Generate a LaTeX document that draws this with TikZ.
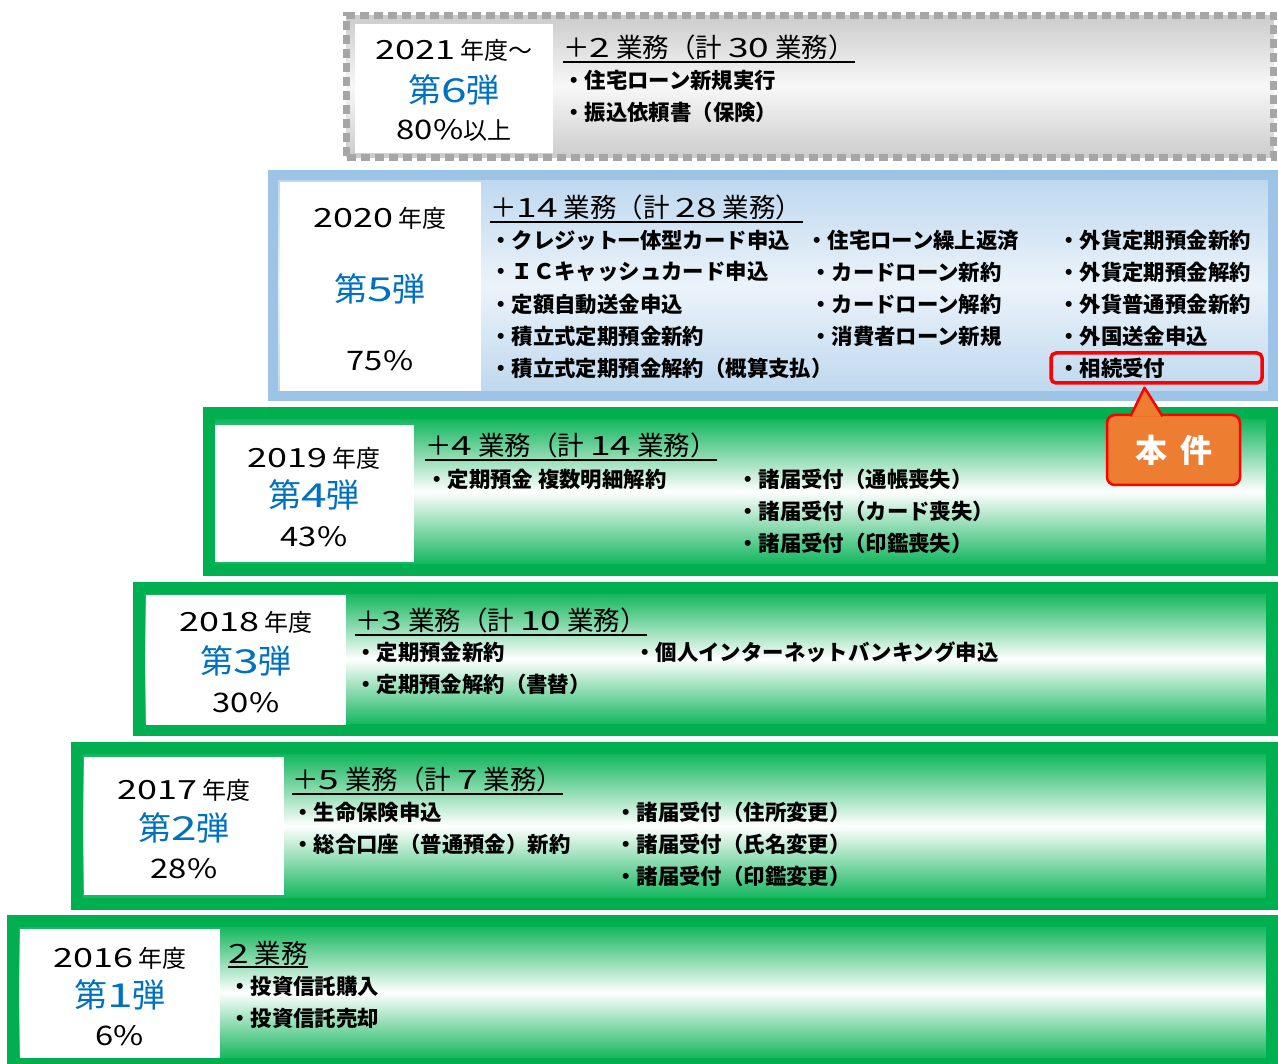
\documentclass[tikz,border=0pt]{standalone}
\usepackage{fontspec}
\setmainfont{Noto Sans CJK JP}
\newfontfamily\widedigits{Noto Sans CJK JP}[FakeStretch=1.4]
\newfontfamily\yeardigits{Noto Sans CJK JP}[Scale=1.1, FakeStretch=1.36]
\newfontfamily\pctdigits{Noto Sans CJK JP}[Scale=1.12, FakeStretch=1.22]
\newcommand\dg[1]{{\widedigits #1}}
\newcommand\yr[1]{{\yeardigits #1}}
\newcommand\pc[1]{{\pctdigits #1}}
\usetikzlibrary{shapes.callouts}

\definecolor{stagegreen}{HTML}{00B050}
\definecolor{stageblue}{HTML}{9DC3E6}
\definecolor{fillblue}{HTML}{BDD7EE}
\definecolor{danblue}{HTML}{0070C0}
\definecolor{dashgray}{HTML}{A6A6A6}
\definecolor{honorange}{HTML}{ED7D31}

\tikzset{
  greenstage/.style={draw=stagegreen, line width=12pt, top color=stagegreen,
    bottom color=stagegreen, middle color=white, inner sep=0pt, outer sep=0pt},
  bluestage/.style={draw=stageblue, line width=10pt, top color=fillblue,
    bottom color=fillblue, middle color=fillblue!30, inner sep=0pt, outer sep=0pt},
  graystage/.style={draw=dashgray, line width=7pt, dash pattern=on 9pt off 5pt,
    top color=gray!40, bottom color=gray!40, middle color=gray!6, inner sep=0pt, outer sep=0pt},
  labelbox/.style={fill=white, inner sep=0pt, outer sep=0pt},
  yeartext/.style={inner sep=0pt, font=\fontsize{24}{28}\selectfont},
  dantext/.style={inner sep=0pt, text=danblue, font=\fontsize{33}{36}\selectfont},
  pcttext/.style={inner sep=0pt, font=\fontsize{24}{28}\selectfont},
  headtext/.style={anchor=west, inner sep=0pt, font=\fontsize{26.5}{30}\selectfont},
  underline/.style={line width=2pt},
  itemtext/.style={anchor=west, inner sep=0pt, font=\bfseries\fontsize{21.4}{24}\selectfont},
  markbox/.style={draw=red, line width=3.5pt, rounded corners=5pt, inner sep=0pt},
  honken/.style={fill=honorange, draw=red, line width=2.5pt, rounded corners=8pt,
    inner sep=0pt, text=white, font=\bfseries\fontsize{32}{34}\selectfont},
  honpointer/.style={fill=honorange, draw=red, line width=2.5pt, line join=round}
}

\begin{document}
\begin{tikzpicture}[x=1pt,y=-1pt]
\useasboundingbox (0,0) rectangle (1278,1064);

%%%%%%%%%%%%%%%%%2021%%%%%%%%%%%%%%
\node[graystage, minimum width=927pt, minimum height=142pt] (s6) at (810,86.5){};

\node[labelbox, minimum width=198pt, minimum height=129pt] (l6) at (454,88.5){};
\node[yeartext] (y6) at (454,50){\yr{2021} 年度～};
\node[dantext] (d6) at (454,90){第\dg{6}弾};
\node[pcttext] (p6) at (454,130){\pc{80\%}以上};

\node[headtext] (h6) at (563,47){＋\dg{2} 業務（計 \dg{30} 業務）};
\draw[underline] ([yshift=-2pt]h6.south west) -- ([yshift=-2pt]h6.south east);

\node[itemtext] (i6a) at (563,80){・住宅ローン新規実行};
\node[itemtext] (i6b) at (563,112){・振込依頼書（保険）};


%%%%%%%%%%%%%%%%%2020%%%%%%%%%%%%%%
\node[bluestage, minimum width=1000pt, minimum height=221pt] (s5) at (773,285.5){};

\node[labelbox, minimum width=201pt, minimum height=209pt] (l5) at (380.5,286.5){};
\node[yeartext] (y5) at (380,218){\yr{2020} 年度};
\node[dantext] (d5) at (380,289){第\dg{5}弾};
\node[pcttext] (p5) at (380,361){\pc{75\%}};

\node[headtext] (h5) at (490,207){＋\dg{14} 業務（計 \dg{28} 業務）};
\draw[underline] ([yshift=-2pt]h5.south west) -- ([yshift=-2pt]h5.south east);

%Left column
\node[itemtext] (i5a) at (490,240){・クレジット一体型カード申込};
\node[itemtext] (i5b) at (490,272){・ＩＣキャッシュカード申込};
\node[itemtext] (i5c) at (490,304){・定額自動送金申込};
\node[itemtext] (i5d) at (490,336){・積立式定期預金新約};
\node[itemtext] (i5e) at (490,368){・積立式定期預金解約（概算支払）};

%Middle column
\node[itemtext] (i5f) at (806,240){・住宅ローン繰上返済};
\node[itemtext] (i5g) at (810,272){・カードローン新約};
\node[itemtext] (i5h) at (810,304){・カードローン解約};
\node[itemtext] (i5i) at (810,336){・消費者ローン新規};

%Right column
\node[itemtext] (i5j) at (1058,240){・外貨定期預金新約};
\node[itemtext] (i5k) at (1058,272){・外貨定期預金解約};
\node[itemtext] (i5l) at (1058,304){・外貨普通預金新約};
\node[itemtext] (i5m) at (1058,336){・外国送金申込};
\node[itemtext] (i5n) at (1058,368){・相続受付};

\node[markbox, minimum width=211pt, minimum height=30pt] (souzoku) at (1156.5,368){};


%%%%%%%%%%%%%%%%%2019%%%%%%%%%%%%%%
\node[greenstage, minimum width=1063pt, minimum height=157pt] (s4) at (740.5,491.5){};

\node[labelbox, minimum width=199pt, minimum height=137pt] (l4) at (314.5,493.5){};
\node[yeartext] (y4) at (314,458){\yr{2019} 年度};
\node[dantext] (d4) at (314,495){第\dg{4}弾};
\node[pcttext] (p4) at (314,537){\pc{43\%}};

\node[headtext] (h4) at (425,445){＋\dg{4} 業務（計 \dg{14} 業務）};
\draw[underline] ([yshift=-2pt]h4.south west) -- ([yshift=-2pt]h4.south east);

\node[itemtext] (i4a) at (426,479){・定期預金 複数明細解約};
\node[itemtext] (i4b) at (737,479){・諸届受付（通帳喪失）};
\node[itemtext] (i4c) at (737,511){・諸届受付（カード喪失）};
\node[itemtext] (i4d) at (737,543){・諸届受付（印鑑喪失）};


%%%%%%%%%%%%%%%%%2018%%%%%%%%%%%%%%
\node[greenstage, minimum width=1133pt, minimum height=142pt] (s3) at (705.5,659){};

\node[labelbox, minimum width=200pt, minimum height=130pt] (l3) at (246,660){};
\node[yeartext] (y3) at (246,622){\yr{2018} 年度};
\node[dantext] (d3) at (246,661){第\dg{3}弾};
\node[pcttext] (p3) at (246,703){\pc{30\%}};

\node[headtext] (h3) at (355,620){＋\dg{3} 業務（計 \dg{10} 業務）};
\draw[underline] ([yshift=-2pt]h3.south west) -- ([yshift=-2pt]h3.south east);

\node[itemtext] (i3a) at (355,652){・定期預金新約};
\node[itemtext] (i3b) at (355,684){・定期預金解約（書替）};
\node[itemtext] (i3c) at (634,652){・個人インターネットバンキング申込};


%%%%%%%%%%%%%%%%%2017%%%%%%%%%%%%%%
\node[greenstage, minimum width=1195pt, minimum height=156pt] (s2) at (674.5,826){};

\node[labelbox, minimum width=200pt, minimum height=138pt] (l2) at (184,826){};
\node[yeartext] (y2) at (184,790){\yr{2017} 年度};
\node[dantext] (d2) at (184,828){第\dg{2}弾};
\node[pcttext] (p2) at (184,869){\pc{28\%}};

\node[headtext] (h2) at (292,779){＋\dg{5} 業務（計 \dg{7} 業務）};
\draw[underline] ([yshift=-2pt]h2.south west) -- ([yshift=-2pt]h2.south east);

\node[itemtext] (i2a) at (292,812){・生命保険申込};
\node[itemtext] (i2b) at (292,844){・総合口座（普通預金）新約};
\node[itemtext] (i2c) at (615,812){・諸届受付（住所変更）};
\node[itemtext] (i2d) at (615,844){・諸届受付（氏名変更）};
\node[itemtext] (i2e) at (615,876){・諸届受付（印鑑変更）};


%%%%%%%%%%%%%%%%%2016%%%%%%%%%%%%%%
\node[greenstage, minimum width=1259pt, minimum height=143pt] (s1) at (642.5,992.5){};

\node[labelbox, minimum width=200pt, minimum height=129pt] (l1) at (120,993.5){};
\node[yeartext] (y1) at (120,958){\yr{2016} 年度};
\node[dantext] (d1) at (120,995){第\dg{1}弾};
\node[pcttext] (p1) at (120,1036){\pc{6\%}};

\node[headtext] (h1) at (228,953){\dg{2} 業務};
\draw[underline] ([yshift=-2pt]h1.south west) -- ([yshift=-2pt]h1.south east);

\node[itemtext] (i1a) at (229,986){・投資信託購入};
\node[itemtext] (i1b) at (229,1018){・投資信託売却};


%%%%%%%%%%%%%%%%%Callout%%%%%%%%%%%%%%
\node[honken, minimum width=133pt, minimum height=70pt] (hon) at (1173.5,450){本\hspace{13pt}件};

\coordinate (ptip) at ([xshift=-12pt,yshift=-3pt]souzoku.south);
\coordinate (pleft) at ([xshift=-43pt,yshift=-2.5pt]hon.north);
\coordinate (pright) at ([xshift=-11pt,yshift=-2.5pt]hon.north);
\path[honpointer] (pleft) -- (ptip) -- (pright);

\end{tikzpicture}
\end{document}
